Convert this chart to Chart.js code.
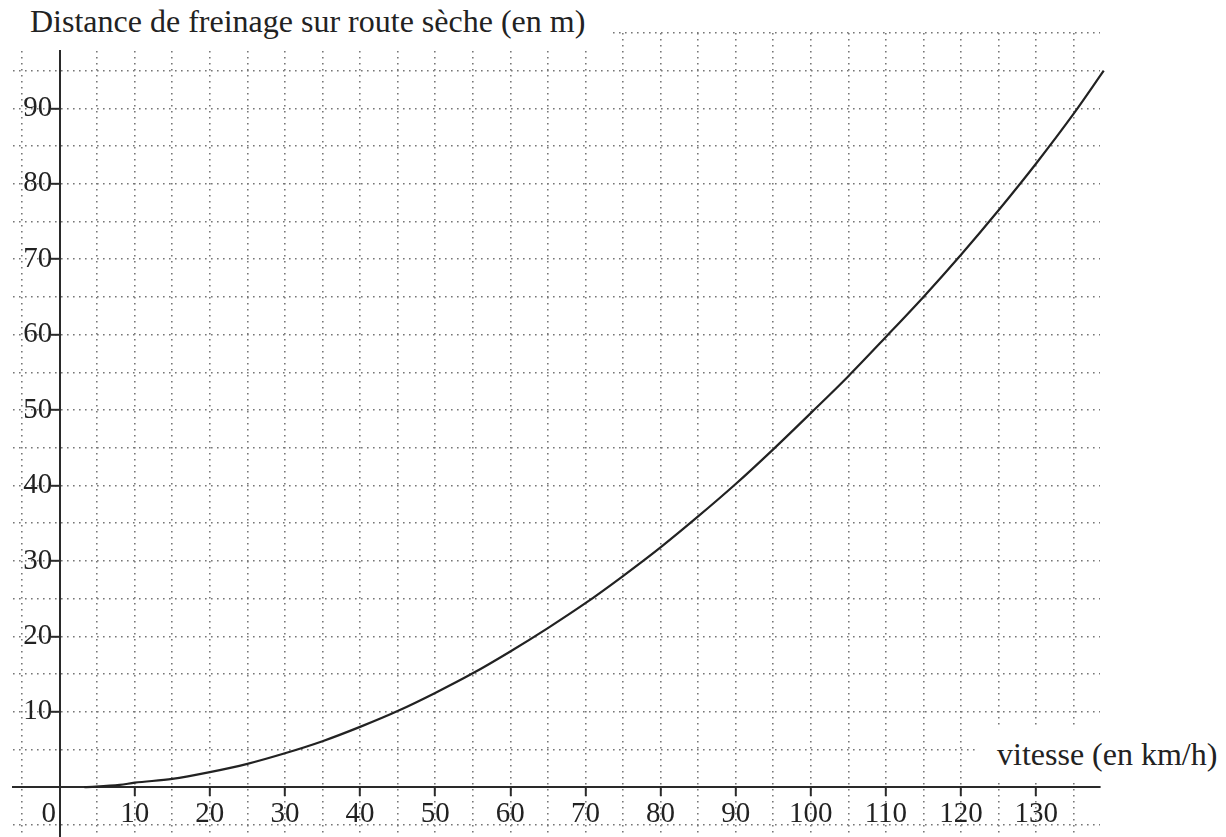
<!DOCTYPE html>
<html>
<head>
<meta charset="utf-8">
<script src="https://cdn.jsdelivr.net/npm/chart.js@4"></script>
<style>
  body { margin: 0; background: #fff; }
  #wrap { position: relative; width: 1226px; height: 837px; overflow: hidden; }
  canvas { display: block; }
  .lbl {
    position: absolute; box-sizing: border-box; background: #fff;
    font-family: 'Liberation Serif', 'Times New Roman', serif;
    font-size: 32px; line-height: 32px; color: #222; white-space: nowrap;
  }
  #title { left: 0; top: 0; width: 612px; height: 50px; padding: 5px 0 0 30px; }
  #xname { left: 975px; top: 728px; width: 251px; height: 55px; padding: 10px 0 0 22px; }
</style>
</head>
<body>
<div id="wrap">
  <canvas id="chart" width="1226" height="837"></canvas>
  <div class="lbl" id="title">Distance de freinage sur route sèche (en m)</div>
  <div class="lbl" id="xname">vitesse (en km/h)</div>
</div>
<script>
// vitesse (km/h) et distance de freinage (m)
const speeds    = [3.3, 8, 10, 15, 20, 25, 30, 35, 40, 45, 50, 55, 60, 65, 70, 75, 80, 85, 90, 95, 100, 105, 110, 115, 120, 125, 130, 135, 139];
const distances = [0, 0.3, 0.6, 1.1, 2, 3.1, 4.5, 6.1, 8, 10.1, 12.5, 15.1, 18, 21.1, 24.4, 28, 31.8, 35.9, 40.2, 44.8, 49.6, 54.5, 59.7, 65, 70.6, 76.5, 82.7, 89.3, 95];

// graduations numerotees
const xLabels = [0, 10, 20, 30, 40, 50, 60, 70, 80, 90, 100, 110, 120, 130];
const yLabels = [10, 20, 30, 40, 50, 60, 70, 80, 90];

const tickFont = { family: "'Liberation Serif', 'Times New Roman', serif", size: 29 };
const gridColor = '#777';
const axisColor = '#2a2a2a';

const points = speeds.map((v, i) => ({ x: v, y: distances[i] }));

new Chart(document.getElementById('chart'), {
  type: 'line',
  data: {
    datasets: [{
      data: points,
      borderColor: '#222',
      borderWidth: 2.2,
      pointRadius: 0,
      cubicInterpolationMode: 'monotone',
      clip: false
    }]
  },
  options: {
    responsive: false,
    animation: false,
    events: [],
    layout: { padding: { left: 13, right: 126, top: 33, bottom: 0 } },
    plugins: { legend: { display: false }, tooltip: { enabled: false } },
    scales: {
      x: {
        type: 'linear',
        min: -6.2,
        max: 138.5,
        position: { y: 0 },
        afterFit: s => { s.paddingLeft = 0; s.paddingRight = 0; },
        ticks: {
          stepSize: 5,
          includeBounds: false,
          autoSkip: false,
          maxRotation: 0,
          padding: 2,
          color: '#222',
          font: tickFont,
          callback: v => xLabels.includes(v) ? (v === 0 ? '0\u2007 ' : String(v)) : ''
        },
        grid: {
          color: gridColor,
          lineWidth: 1.6,
          tickLength: 8,
          tickWidth: 2,
          tickColor: ctx => (ctx.tick && xLabels.includes(ctx.tick.value) && ctx.tick.value !== 0) ? axisColor : 'rgba(0,0,0,0)'
        },
        border: { display: true, color: axisColor, width: 2, dash: [1.6, 4.4] }
      },
      y: {
        type: 'linear',
        min: -6.6,
        max: 100,
        position: { x: 0 },
        afterFit: s => { s.paddingTop = 0; s.paddingBottom = 0; },
        ticks: {
          stepSize: 5,
          includeBounds: false,
          autoSkip: false,
          padding: 2,
          color: '#222',
          font: tickFont,
          // espace final : decale le nombre a gauche du trait de graduation
          callback: v => yLabels.includes(v) ? String(v) + ' ' : ''
        },
        grid: {
          color: gridColor,
          lineWidth: 1.6,
          tickLength: 8,
          tickWidth: 2,
          tickColor: ctx => (ctx.tick && yLabels.includes(ctx.tick.value)) ? axisColor : 'rgba(0,0,0,0)'
        },
        border: { display: true, color: axisColor, width: 2, dash: [1.6, 4.4] }
      }
    }
  }
});
</script>
</body>
</html>
